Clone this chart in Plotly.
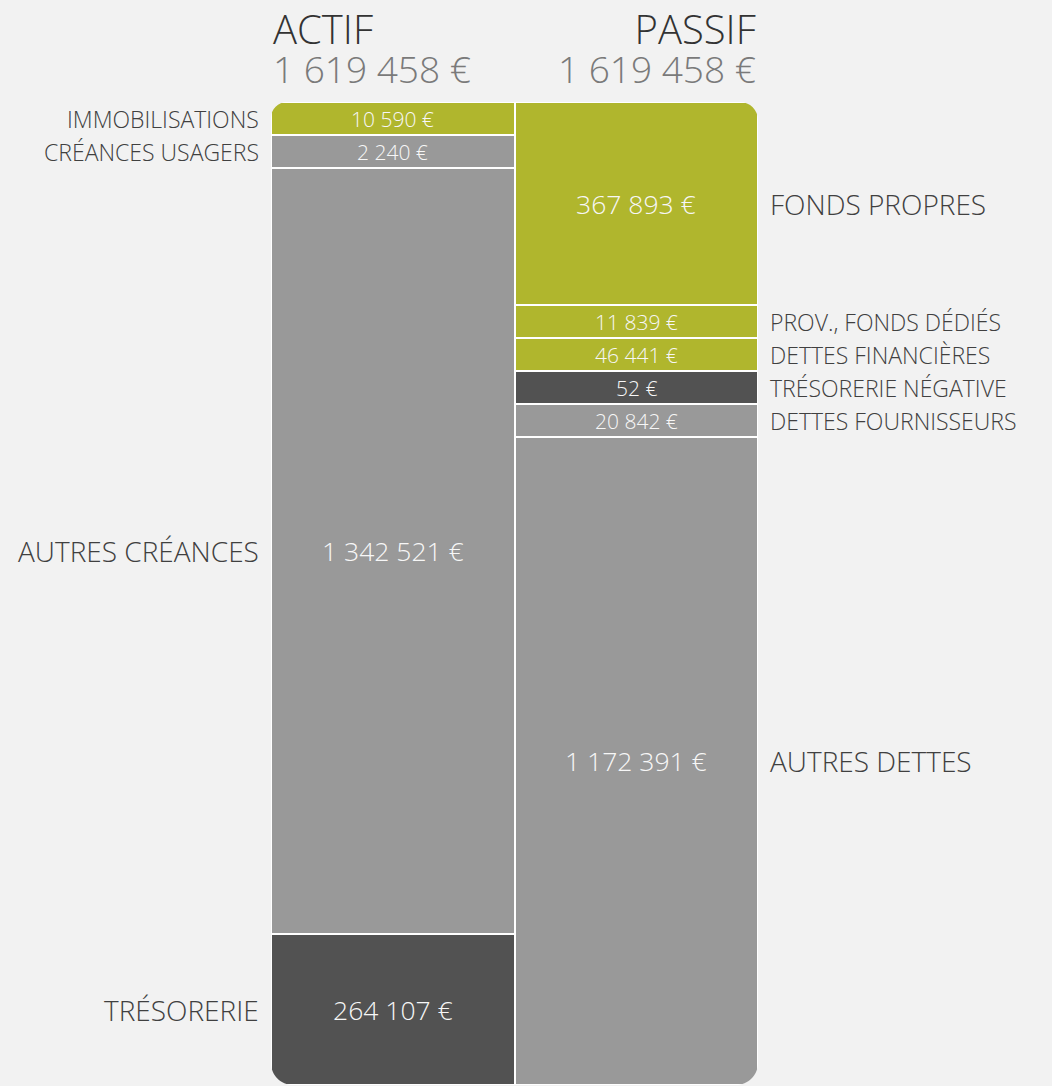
import plotly.graph_objects as go

# ---------------- data ----------------
sides = ["ACTIF", "PASSIF"]
actif_labels = ["IMMOBILISATIONS", "CRÉANCES USAGERS", "AUTRES CRÉANCES", "TRÉSORERIE"]
actif_values = [10590, 2240, 1342521, 264107]
passif_labels = ["FONDS PROPRES", "PROV., FONDS DÉDIÉS", "DETTES FINANCIÈRES",
                 "TRÉSORERIE NÉGATIVE", "DETTES FOURNISSEURS", "AUTRES DETTES"]
passif_values = [367893, 11839, 46441, 52, 20842, 1172391]

# ---------------- style ----------------
GREEN = "#b0b62d"
GRAY = "#999999"
DARK = "#525252"
BG = "#f2f2f2"
actif_colors = [GREEN, GRAY, GRAY, DARK]
passif_colors = [GREEN, GREEN, GREEN, DARK, GRAY, GRAY]
FONT = "Open Sans"

W, H = 1052, 1086
PL, PR, PT, PB = 271, 758, 102, 1085   # plot area in pixels
MIN_PX = 33                           # minimum displayed height of a segment


def fmt(v):
    return f"{v:,}".replace(",", " ") + " €"


def display_heights(values):
    """Small segments get a minimum height; the others share the rest proportionally."""
    total = sum(values)
    m = total * MIN_PX / (PB - PT)
    small = [v < m for v in values]
    rest = total - m * sum(small)
    big_sum = sum(v for v, s in zip(values, small) if not s)
    return [m if s else v * rest / big_sum for v, s in zip(values, small)], small, total


def px2paper(x, y):
    return (x - PL) / (PR - PL), (PB - y) / (PB - PT)


fig = go.Figure()
annotations = []

for side, labels, values, colors in [
    ("ACTIF", actif_labels, actif_values, actif_colors),
    ("PASSIF", passif_labels, passif_values, passif_colors),
]:
    heights, small, total = display_heights(values)
    cum = 0
    for lab, v, h, s, c in zip(labels, values, heights, small, colors):
        fig.add_trace(go.Bar(
            x=[side], y=[h], name=lab,
            marker=dict(color=c, line=dict(color="white", width=2)),
            hovertext=[f"{lab}: {fmt(v)}"], hoverinfo="text",
            showlegend=False,
        ))
        mid = cum + h / 2
        cum += h
        # value inside bar
        annotations.append(dict(
            x=side, y=mid, xref="x", yref="y", text=fmt(v), showarrow=False,
            font=dict(family=FONT, size=21 if s else 26.5, color="#f7f7f7", weight=300),
            xanchor="center", yanchor="middle",
        ))
        # category label beside bar
        lab_font = dict(family=FONT, size=23 if s else 28, color="#404040", weight=300)
        if side == "ACTIF":
            annotations.append(dict(
                x=0, xref="paper", xshift=-10, xanchor="right",
                y=mid, yref="y", yanchor="middle", text=lab, showarrow=False,
                font=lab_font,
            ))
        else:
            annotations.append(dict(
                x=1, xref="paper", xshift=10, xanchor="left",
                y=mid, yref="y", yanchor="middle", text=lab, showarrow=False,
                font=lab_font,
            ))

# headers (title + total in one text block)
tot_actif = sum(actif_values)
tot_passif = sum(passif_values)
for side, tot, xp, anchor in [("ACTIF", tot_actif, 0, "left"), ("PASSIF", tot_passif, 1, "right")]:
    _, yc = px2paper(0, 48)
    annotations.append(dict(
        x=xp, xref="paper", xanchor=anchor, align=anchor,
        y=yc, yref="paper", yanchor="middle", showarrow=False,
        text=(f"<span style='font-size:40px;color:#333333'>{side}</span><br>"
              f"<span style='font-size:37px;color:#7a7a7a'>{fmt(tot)}</span>"),
        font=dict(family=FONT, size=30, color="#333333", weight=300),
    ))

# rounded outer corners (background-coloured masks)
K = 0.5523


def corner_mask(cx, cy, r, dx, dy):
    # dx, dy: direction from corner into the bar (+1/-1)
    o = 3
    pts = [
        ("M", [(cx - dx * o, cy - dy * o)]),
        ("L", [(cx + dx * r, cy - dy * o)]),
        ("L", [(cx + dx * r, cy)]),
        ("C", [(cx + dx * r * (1 - K), cy), (cx, cy + dy * r * (1 - K)), (cx, cy + dy * r)]),
        ("L", [(cx - dx * o, cy + dy * r)]),
    ]
    path = ""
    for cmd, ps in pts:
        path += cmd + " " + " ".join("%f,%f" % px2paper(x, y) for x, y in ps) + " "
    return dict(type="path", xref="paper", yref="paper", path=path + "Z",
                fillcolor=BG, line=dict(width=0), layer="above")


shapes = [
    corner_mask(PL, PT, 16, 1, 1),
    corner_mask(PR, PT, 18, -1, 1),
    corner_mask(PL, PB, 22, 1, -1),
    corner_mask(PR, PB, 22, -1, -1),
]

fig.update_layout(
    width=W, height=H,
    barmode="stack", bargap=0,
    paper_bgcolor=BG, plot_bgcolor=BG,
    margin=dict(l=PL, r=W - PR, t=PT, b=H - PB, autoexpand=False),
    xaxis=dict(visible=False, range=[-0.5, 1.5], categoryorder="array", categoryarray=sides, fixedrange=True),
    yaxis=dict(visible=False, range=[tot_actif, 0], fixedrange=True),
    annotations=annotations,
    shapes=shapes,
    showlegend=False,
)

fig.write_html(
    "out.html",
    config={"displayModeBar": False},
    post_script="document.body.style.margin='0';document.body.style.background='#f2f2f2';",
)
